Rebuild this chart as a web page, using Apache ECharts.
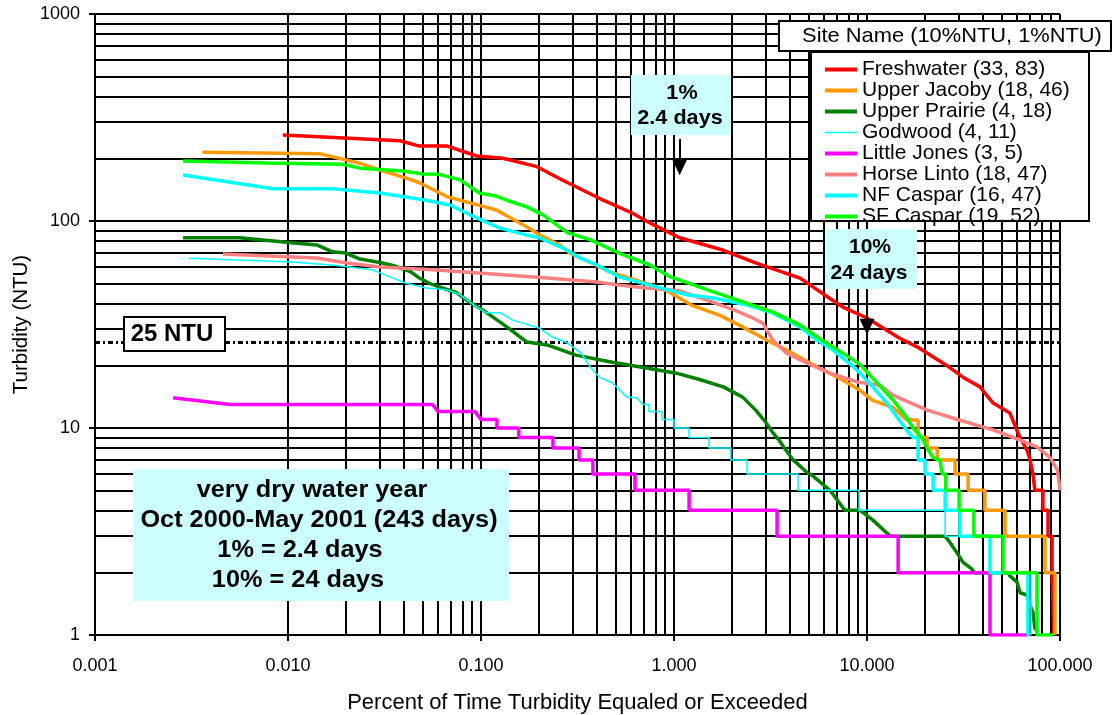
<!DOCTYPE html>
<html><head><meta charset="utf-8">
<script src="https://cdn.jsdelivr.net/npm/echarts@6/dist/echarts.min.js"></script>
<style>html,body{margin:0;padding:0;background:#fff}#c{width:1112px;height:715px}</style>
</head><body><div id="c"></div>
<script>
// ---- data ----
const sites = ['Freshwater','Upper Jacoby','Upper Prairie','Godwood','Little Jones','Horse Linto','NF Caspar','SF Caspar'];
const ntu10 = [33,18,4,4,3,18,16,19];
const ntu1 = [83,46,18,11,5,47,47,52];
const colors = ['#ff0000','#ff9900','#008000','#00ffff','#ff00ff','#ff8080','#00ffff','#00ff00'];
const widths = [3.5,3.5,3.5,1.5,3.5,3.5,3.5,3.5];

const freshwater = [[0.0094,260],[0.038,244],[0.048,230],[0.067,230],[0.095,206],[0.13,201],[0.195,183],[0.256,160],[0.43,126],[0.61,109],[0.78,96],[1.07,83],[1.79,72.4],[2.65,62.7],[4.5,53],[6.6,41.5],[7.5,38.4],[10,34],[14.7,27.2],[18.7,24.3],[26,20],[31.4,17.6],[38.5,15.8],[45,13.2],[55,11.8],[62,9],[67.5,7.8],[70,7],[72.4,6],[74.1,6],[74.1,5],[81.6,5],[81.6,4],[86.7,4],[86.7,3],[91,3],[91,2],[93,2],[93,1]];
const upperJacoby = [[0.0036,215],[0.0147,211],[0.0236,190],[0.030,176],[0.041,161],[0.048,153],[0.067,131],[0.098,119],[0.12,113],[0.173,93.5],[0.2,86],[0.256,76.6],[0.289,70],[0.37,63],[0.465,56.7],[0.72,50],[0.92,46],[1.25,39],[1.73,35],[2.27,30.8],[3.02,26.6],[3.83,23.8],[5.2,20.3],[7.2,17.4],[9.2,15.2],[10.7,13.6],[13.6,12.6],[16,11],[18.4,10.9],[18.4,9],[20.5,9],[20.5,8],[23.1,8],[23.1,7],[28.6,7],[28.6,6],[33.4,6],[33.4,5],[40.8,5],[40.8,4],[51.9,4],[51.9,3],[83.6,3],[83.6,2],[94.2,2],[94.2,1]];
const upperPrairie = [[0.00286,83],[0.0056,83],[0.0098,79],[0.0141,76.6],[0.017,71],[0.020,70],[0.0236,65.5],[0.030,63],[0.035,61],[0.043,57],[0.048,53],[0.054,50],[0.063,47.5],[0.075,45],[0.087,40.6],[0.102,37.2],[0.115,34.4],[0.136,30.8],[0.173,26],[0.22,25.2],[0.256,24],[0.31,22.5],[0.48,20.8],[0.72,19.5],[1.03,18.4],[1.37,17.1],[1.8,15.8],[2.27,14.1],[2.65,12.2],[3.0,10.6],[3.25,9.5],[3.5,8.75],[3.7,8.1],[4.14,7],[4.3,6.8],[4.89,6.1],[5.2,5.9],[6.43,5],[7.69,4],[9.2,4],[10.7,3.6],[13.2,3],[25.4,3],[26.9,2.8],[29.2,2.5],[31.4,2.25],[35,2.08],[36,2],[54,2],[55,1.93],[59.9,1.8],[62.1,1.6],[67.5,1.56],[70.8,1.35],[72.4,1.29],[74.1,1.08],[76.9,1.03]];
const godwood = [[0.00307,66],[0.0106,63.4],[0.0179,61],[0.0276,58],[0.035,53],[0.041,50],[0.052,47.5],[0.067,46.5],[0.078,44],[0.095,38.4],[0.107,36],[0.126,36],[0.146,33.2],[0.2,30.4],[0.235,27.5],[0.28,25.8],[0.33,23],[0.37,19.6],[0.41,17.6],[0.48,16.5],[0.57,14.1],[0.64,14],[0.69,13],[0.742,13],[0.742,12],[0.866,12],[0.866,11],[1.0,11],[1.0,10],[1.197,10],[1.197,9],[1.52,9],[1.52,8],[1.97,8],[1.97,7],[2.39,7],[2.39,6],[4.39,6],[4.39,5],[9.1,5],[9.1,4],[25.4,4],[25.4,3],[43.4,3],[43.4,2],[70.8,2],[70.8,1]];
const littleJones = [[0.00254,14],[0.005,13],[0.056,13],[0.06,12],[0.093,12],[0.1,11],[0.121,11],[0.121,10],[0.157,10],[0.157,9],[0.236,9],[0.236,8],[0.322,8],[0.322,7],[0.38,7],[0.38,6],[0.628,6],[0.628,5],[1.197,5],[1.197,4],[3.42,4],[3.42,3],[14.5,3],[14.5,2],[43.4,2],[43.4,1],[67.5,1]];
const horseLinto = [[0.0046,69.3],[0.0141,66.3],[0.0202,62.7],[0.030,60],[0.059,58],[0.115,55.5],[0.22,53],[0.40,50.7],[0.52,49],[0.72,47.5],[1.07,46],[1.48,41.5],[2.04,37.2],[2.56,34],[2.9,32],[3.02,29.7],[3.25,26.6],[3.83,23],[4.89,20.6],[6.43,18.4],[8.9,16.7],[11.7,16.1],[13.6,14.4],[20.5,12.2],[30.3,10.9],[45,9.8],[62,8.75],[76,8.1],[89,7.2],[97,6.25],[100,5]];
const nfCaspar = [[0.00286,167],[0.0084,143],[0.017,143],[0.030,136.5],[0.035,133.5],[0.052,126],[0.069,119.5],[0.095,103.5],[0.125,92.5],[0.173,85.5],[0.2,83],[0.266,74],[0.33,66],[0.40,61.3],[0.52,53.7],[0.85,47.5],[1.17,44],[1.6,42.5],[2.4,39.3],[3.25,36],[4.5,30.8],[5.5,26.6],[6.6,24],[8.5,19.8],[10.3,16.5],[12.7,13.2],[14.3,11.3],[16,9.8],[17.3,9],[18.4,9],[18.4,7],[20,7],[20,6],[22,6],[22,5],[25.4,5],[25.4,4],[30.3,4],[30.3,3],[43.4,3],[43.4,2],[68.2,2],[68.2,1],[70,1]];
const sfCaspar = [[0.00286,195],[0.0078,190.6],[0.0192,188],[0.0236,180],[0.0395,174.5],[0.050,168.6],[0.061,168],[0.078,158],[0.098,136.5],[0.12,132],[0.136,126],[0.173,117],[0.21,107],[0.256,93.5],[0.28,88],[0.37,81],[0.52,70],[0.75,61.3],[0.96,53.7],[1.2,50],[1.6,45.5],[2.4,40],[3.25,36.4],[4.5,31.5],[5.7,27],[7.5,23],[9.2,20.3],[11.3,16.5],[13.6,13.7],[16,11.3],[17.3,10],[19.2,9],[20.5,8],[22,7.2],[23.9,7],[24.5,6],[25.6,6],[25.6,5],[30,5],[30,4],[35.8,4],[35.8,3],[50.7,3],[50.7,2],[76,2],[76,1],[92,1]];

const xTicks = [0.001,0.01,0.1,1,10,100];
const yTicks = [1,10,100,1000];
const refLevel = 26;                        // "25 NTU" reference line as drawn
const arrow1 = [[1.07,249],[1.07,182]];     // 1% marker arrow
const arrow10 = [[10,40.6],[10,30.8]];      // 10% marker arrow

const seriesData = [freshwater,upperJacoby,upperPrairie,godwood,littleJones,horseLinto,nfCaspar,sfCaspar];

// minor grid positions (2..9 within each decade)
const xMinor = [], yMinor = [];
for (let i = 0; i < xTicks.length - 1; i++) for (let k = 2; k <= 9; k++) xMinor.push(+(k * xTicks[i]).toPrecision(6));
for (let i = 0; i < yTicks.length - 1; i++) for (let k = 2; k <= 9; k++) yMinor.push(k * yTicks[i]);

const FONT = '"Liberation Sans", Arial, Helvetica, sans-serif';

const chart = echarts.init(document.getElementById('c'), null, {renderer: 'canvas'});

const series = [];
series.push({
  type: 'line', name: '__grid', data: [[1, 1]], showSymbol: false, symbol: 'none', silent: true,
  lineStyle: {opacity: 0}, z: 1,
  markLine: {
    silent: true, z: 1, symbol: 'none', animation: false, label: {show: false},
    lineStyle: {color: '#000', width: 2, type: 'solid'},
    emphasis: {disabled: true},
    data: [...xMinor.map(v => ({xAxis: v})), ...yMinor.map(v => ({yAxis: v}))]
  }
});
series.push({
  type: 'line', name: '__ref', data: [[1, 1]], showSymbol: false, symbol: 'none', silent: true,
  lineStyle: {opacity: 0}, z: 2,
  markLine: {
    silent: true, z: 2, symbol: 'none', animation: false, label: {show: false},
    lineStyle: {color: '#000', width: 3, type: [5, 3, 2, 3]},
    emphasis: {disabled: true},
    data: [{yAxis: refLevel}]
  }
});
sites.forEach((s, i) => {
  series.push({
    type: 'line', name: s, data: seriesData[i], showSymbol: false, symbol: 'none',
    lineStyle: {color: colors[i], width: widths[i]}, itemStyle: {color: colors[i]},
    z: 3, animation: false, silent: true
  });
});
series.push({
  type: 'line', name: '__arrows', data: [[1, 1]], showSymbol: false, symbol: 'none', silent: true,
  lineStyle: {opacity: 0}, z: 6,
  markLine: {
    silent: true, z: 8, symbol: ['none', 'triangle'], symbolSize: [15, 16], animation: false,
    label: {show: false}, emphasis: {disabled: true},
    lineStyle: {color: '#000', width: 2, type: 'solid'},
    itemStyle: {color: '#000'},
    data: [
      [{coord: arrow1[0]}, {coord: arrow1[1]}],
      [{coord: arrow10[0]}, {coord: arrow10[1]}]
    ]
  }
});

function boxText(txt, cx, cy, size, bold, sx) {
  return {
    type: 'text', x: cx, y: cy, scaleX: sx || 1, z: 30, silent: true,
    style: {text: txt, x: 0, y: 0, align: 'center', verticalAlign: 'middle',
      textAlign: 'center', textVerticalAlign: 'middle',
      font: (bold ? 'bold ' : '') + size + 'px ' + FONT, fill: '#000'}
  };
}
function rect(x, y, w, h, fill, stroke) {
  return {
    type: 'rect', z: 25, silent: true, shape: {x: x, y: y, width: w, height: h},
    style: {fill: fill, stroke: stroke || null, lineWidth: stroke ? 2 : 0}
  };
}

const option = {
  backgroundColor: '#fff',
  animation: false,
  grid: {left: 95, right: 52, top: 14, bottom: 80, containLabel: false, outerBoundsMode: 'none'},
  xAxis: {
    type: 'log', logBase: 10, min: 0.001, max: 100,
    name: 'Percent of Time Turbidity Equaled or Exceeded',
    nameLocation: 'middle', nameGap: 57, nameMoveOverlap: false,
    nameTextStyle: {fontFamily: FONT, fontSize: 22, color: '#000'},
    axisLine: {show: true, lineStyle: {color: '#000', width: 2}},
    axisTick: {show: true, length: 6, inside: false, lineStyle: {color: '#000', width: 2}},
    minorTick: {show: false},
    axisLabel: {fontFamily: FONT, fontSize: 18, color: '#000', margin: 22, hideOverlap: false,
      showMinLabel: true, showMaxLabel: true, formatter: v => Number(v).toFixed(3)},
    splitLine: {show: true, lineStyle: {color: '#000', width: 2}}
  },
  yAxis: {
    type: 'log', logBase: 10, min: 1, max: 1000,
    name: 'Turbidity (NTU)', nameLocation: 'middle', nameGap: 63, nameMoveOverlap: false,
    nameTextStyle: {fontFamily: FONT, fontSize: 20.5, color: '#000'},
    axisLine: {show: true, lineStyle: {color: '#000', width: 2}},
    axisTick: {show: true, length: 6, inside: false, lineStyle: {color: '#000', width: 2}},
    minorTick: {show: false},
    axisLabel: {fontFamily: FONT, fontSize: 18, color: '#000', margin: 15, hideOverlap: false,
      showMinLabel: true, showMaxLabel: true, formatter: v => String(Math.round(v))},
    splitLine: {show: true, lineStyle: {color: '#000', width: 2}}
  },
  legend: {
    show: true, orient: 'vertical', left: 810, top: 52, z: 40,
    padding: [7, 0, 0, 15], itemGap: 0, itemWidth: 32, itemHeight: 4,
    selectedMode: false, backgroundColor: 'transparent',
    itemStyle: {borderWidth: 0},
    textStyle: {fontFamily: FONT, fontSize: 21, color: '#000', lineHeight: 20.4},
    formatter: name => { const i = sites.indexOf(name); return name + ' (' + ntu10[i] + ', ' + ntu1[i] + ')'; },
    data: sites.map((s, i) => ({name: s, icon: widths[i] < 2 ? 'path://M0,0h64v3h-64z' : 'rect'}))
  },
  graphic: [
    // legend frames
    rect(779, 21, 332, 30, '#fff', '#000'),
    boxText('Site Name (10%NTU, 1%NTU)', 952, 36, 21, false, 1.04),
    rect(811, 52, 278, 169, '#fff', '#000'),
    // 25 NTU label
    rect(124, 317, 101, 34, '#fff', '#000'),
    boxText('25 NTU', 172, 334, 24, true, 1),
    // 1% box
    rect(631, 75, 100, 60, '#ccffff'),
    boxText('1%', 682, 93, 21, true, 1.03),
    boxText('2.4 days', 680, 118, 21, true, 1.03),
    // 10% box
    rect(825, 229, 92, 60, '#ccffff'),
    boxText('10%', 870, 247, 21, true, 1.0),
    boxText('24 days', 869, 273, 21, true, 1.0),
    // big info box
    rect(133, 469, 376, 132, '#ccffff'),
    boxText('very dry water year', 312, 491, 23, true, 1.1),
    boxText('Oct 2000-May 2001 (243 days)', 319, 521, 23, true, 1.1),
    boxText('1% = 2.4 days', 300, 551, 23, true, 1.1),
    boxText('10% = 24 days', 298, 581, 23, true, 1.1)
  ],
  series: series
};
chart.setOption(option);
</script>
</body></html>
